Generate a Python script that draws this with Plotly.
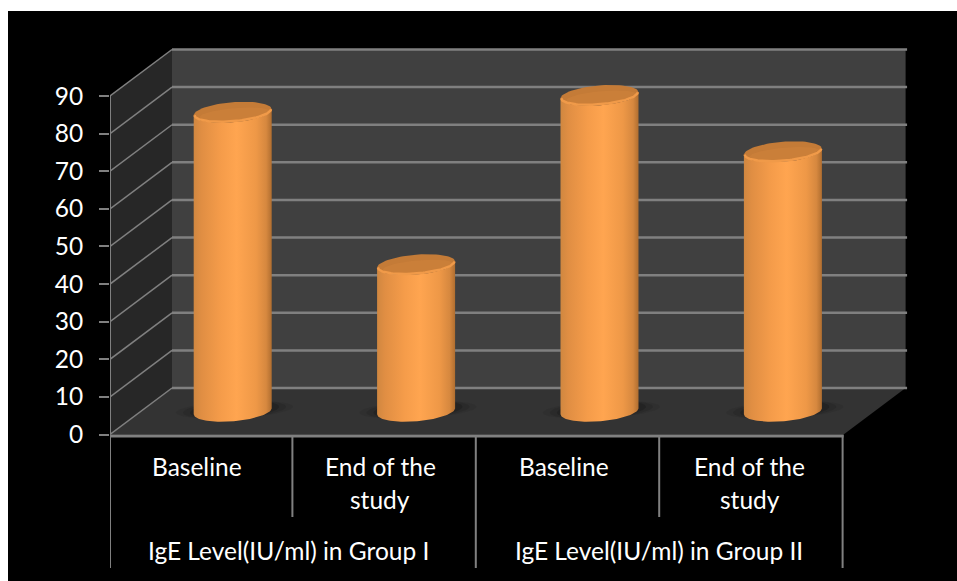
import numpy as np
import plotly.graph_objects as go

# Chart content
groups = ["IgE Level(IU/ml) in Group I", "IgE Level(IU/ml) in Group II"]
categories = [["Baseline"], ["End of the", "study"], ["Baseline"], ["End of the", "study"]]
values = [79.5, 39, 84, 69]
y_ticks = [0, 10, 20, 30, 40, 50, 60, 70, 80, 90]

# Page geometry in pixels
WIDTH, HEIGHT = 957, 581
PLOT_L, PLOT_R, PLOT_T, PLOT_B = 110, 910, 45, 440
PX_PER_CAT = 183.4
PX_PER_VAL = 3.761
ZERO_PX = 434.5

# Depth of the pseudo-3D box, in axis units
DEPTH_X = 62 / PX_PER_CAT
DEPTH_Y = 46.5 / PX_PER_VAL
X_MIN, X_MAX = -0.5, 3.5

x_range = [X_MIN, X_MIN + (PLOT_R - PLOT_L) / PX_PER_CAT]
y_range = [(ZERO_PX - PLOT_B) / PX_PER_VAL, (ZERO_PX - PLOT_T) / PX_PER_VAL]

GRID = "#808080"
FONT = "Lato"
TEXT_SIZE = 24.5


def paper_y(px):
    return (PLOT_B - px) / (PLOT_B - PLOT_T)


def paper_x(px):
    return (px - PLOT_L) / (PLOT_R - PLOT_L)


fig = go.Figure()


def polygon(xs, ys, color):
    fig.add_trace(go.Scatter(x=xs, y=ys, mode="lines", fill="toself", fillcolor=color,
                             line=dict(width=0), hoverinfo="skip", showlegend=False))


def segment(xs, ys, color=GRID, width=2):
    fig.add_trace(go.Scatter(x=xs, y=ys, mode="lines", line=dict(color=color, width=width),
                             hoverinfo="skip", showlegend=False, cliponaxis=False))


# Walls and floor of the box
top_v = y_ticks[-1]
polygon([X_MIN + DEPTH_X, X_MAX + DEPTH_X, X_MAX + DEPTH_X, X_MIN + DEPTH_X],
        [DEPTH_Y, DEPTH_Y, top_v + DEPTH_Y, top_v + DEPTH_Y], "#404040")
polygon([X_MIN, X_MIN + DEPTH_X, X_MIN + DEPTH_X, X_MIN],
        [0, DEPTH_Y, top_v + DEPTH_Y, top_v], "#272727")
polygon([X_MIN, X_MIN + DEPTH_X, X_MAX + DEPTH_X, X_MAX],
        [0, DEPTH_Y, DEPTH_Y, 0], "#333333")

# Gridlines across the back wall and the side wall
for v in y_ticks:
    segment([X_MIN, X_MIN + DEPTH_X], [v, v + DEPTH_Y], width=1.5)
    segment([X_MIN + DEPTH_X, X_MAX + DEPTH_X + 0.008], [v + DEPTH_Y, v + DEPTH_Y], width=2.5)

# Front floor edge and the value axis
FLOOR_EDGE = -1.6 / PX_PER_VAL
segment([X_MIN, X_MAX], [FLOOR_EDGE, FLOOR_EDGE], width=3)
segment([X_MIN, X_MIN], [0, top_v], width=2)

# Cylinders standing mid-way through the box depth
SEMI_W = 39 / PX_PER_CAT
SEMI_H = 10 / PX_PER_VAL
TILT = 3 / PX_PER_VAL
BODY_SCALE = [[0, "#d08740"], [0.1, "#e08e43"], [0.35, "#f59c4a"], [0.55, "#ffa550"],
              [0.8, "#ee9847"], [0.93, "#d6883f"], [1, "#b06e30"]]


def ellipse_pts(cx, cy, t, a=SEMI_W, b=SEMI_H, tilt=TILT):
    return cx + a * np.cos(t), cy + b * np.sin(t) + tilt * np.cos(t)


for i, v in enumerate(values):
    cx = i + DEPTH_X / 2
    base = DEPTH_Y / 2

    # Soft contact shadow on the floor
    t = np.linspace(0, 2 * np.pi, 80)
    for scale, alpha in [(1.5, 0.10), (1.32, 0.18), (1.14, 0.3)]:
        sx, sy = ellipse_pts(cx + 0.01, base + 0.4, t, SEMI_W * scale, SEMI_H * 0.85, TILT)
        polygon(sx, sy, f"rgba(20,20,20,{alpha})")

    # Body: lower arc of the base, then the lower arc of the top
    low = np.linspace(np.pi, 2 * np.pi, 60)
    bx, by = ellipse_pts(cx, base, low)
    tx, ty = ellipse_pts(cx, v + base, low[::-1])
    fig.add_trace(go.Scatter(
        x=np.r_[bx, tx], y=np.r_[by, ty], mode="lines", fill="toself",
        fillgradient=dict(type="horizontal", colorscale=BODY_SCALE),
        line=dict(width=0), hoverinfo="skip", showlegend=False))

    # Cap, shaded a little lighter towards the front, with a bright rim
    cxs, cys = ellipse_pts(cx, v + base, t)
    polygon(cxs, cys, "#c47b37")
    fx, fy = ellipse_pts(cx + 0.01, v + base - 0.5, t, SEMI_W * 0.9, SEMI_H * 0.6, TILT)
    polygon(fx, fy, "rgba(214,136,64,0.35)")
    rx, ry = ellipse_pts(cx, v + base, low, SEMI_W * 0.98, SEMI_H * 0.9, TILT)
    segment(rx, ry, color="#f09a49", width=2.5)

# Category table under the axis
LINE_SHIFT = 1 / PX_PER_CAT
line_bottom = {0: 568, 1: 517, 2: 568, 3: 517, 4: 568}
shapes = [dict(type="rect", xref="paper", yref="paper", layer="below",
               x0=paper_x(8), x1=paper_x(WIDTH), y0=paper_y(HEIGHT), y1=paper_y(11),
               fillcolor="black", line=dict(width=0))]
for k, bottom in line_bottom.items():
    x_line = X_MIN + k - (LINE_SHIFT if k else 0)
    shapes.append(dict(type="line", xref="x", yref="paper", x0=x_line, x1=x_line,
                       y0=paper_y(bottom), y1=paper_y(435),
                       line=dict(color=GRID, width=2)))

annotations = []


def label(text, x, y_px, shift_px=0):
    annotations.append(dict(text=text, x=x + shift_px / PX_PER_CAT, xref="x",
                            y=paper_y(y_px), yref="paper",
                            xanchor="center", yanchor="middle", showarrow=False,
                            font=dict(family=FONT, size=TEXT_SIZE, color="white")))


# The labels sit slightly left of their cell centres
cat_shift = [-4.5, -5, -5, -2]
for i, lines in enumerate(categories):
    label(lines[0], i, 467, cat_shift[i])
    if len(lines) == 2:
        label(lines[1], i, 500, cat_shift[i])
group_shift = [-4.5, -1]
for g, name in enumerate(groups):
    label(name, 0.5 + 2 * g, 550, group_shift[g])

fig.update_layout(
    width=WIDTH, height=HEIGHT, autosize=False,
    margin=dict(l=PLOT_L, r=WIDTH - PLOT_R, t=PLOT_T, b=HEIGHT - PLOT_B, pad=0),
    paper_bgcolor="white", plot_bgcolor="rgba(0,0,0,0)",
    showlegend=False, shapes=shapes, annotations=annotations,
    xaxis=dict(range=x_range, visible=False, fixedrange=True),
    yaxis=dict(range=y_range, tickmode="array", tickvals=y_ticks,
               ticks="outside", ticklen=10, tickwidth=2, tickcolor=GRID,
               ticklabelstandoff=11, showgrid=False, zeroline=False, showline=False,
               tickfont=dict(family=FONT, size=TEXT_SIZE, color="white"), fixedrange=True),
)

fig.write_html("out.html", config=dict(displayModeBar=False))
